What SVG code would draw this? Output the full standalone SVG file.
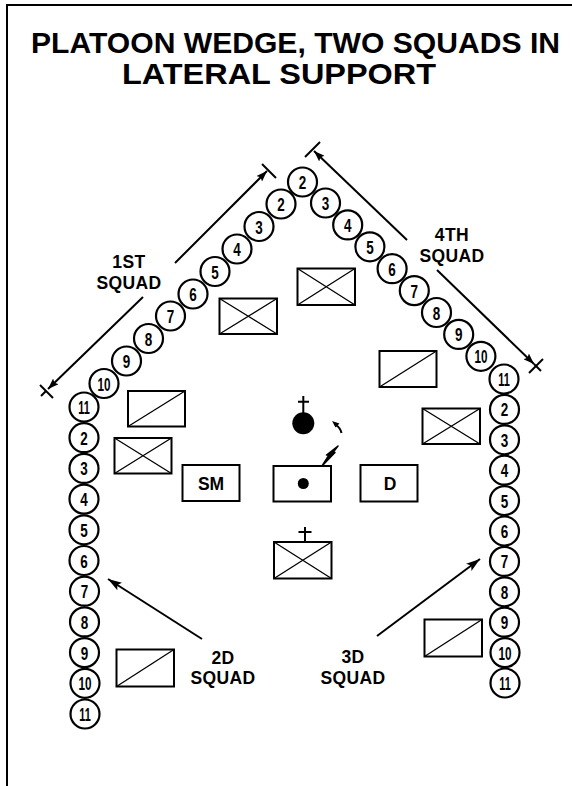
<svg xmlns="http://www.w3.org/2000/svg" width="572" height="786" viewBox="0 0 572 786">
<defs>
<style>
.bg{fill:#fff}
.frame{stroke:#000;stroke-width:2;fill:none}
.ttl{font-family:"Liberation Sans",Arial,sans-serif;font-weight:bold;font-size:30px;fill:#000}
.lbl{font-family:"Liberation Sans",Arial,sans-serif;font-weight:bold;font-size:17.5px;fill:#000;text-anchor:middle;letter-spacing:0.4px}
.c{fill:#fff;stroke:#000;stroke-width:2.2}
.n{font-family:"Liberation Sans",Arial,sans-serif;font-weight:bold;font-size:19px;fill:#000;text-anchor:middle}
.box{fill:#fff;stroke:#000;stroke-width:2}
.diag{stroke:#000;stroke-width:1.3;fill:none}
.ln{stroke:#000;stroke-width:2;fill:none}
.bt{font-family:"Liberation Sans",Arial,sans-serif;font-weight:bold;font-size:17.5px;fill:#000;text-anchor:middle}
</style>
<marker id="ah" viewBox="0 0 11 8" refX="11" refY="4" markerWidth="11" markerHeight="8" markerUnits="userSpaceOnUse" orient="auto">
<path d="M0,0 L11,4 L0,8 L2,4 z" fill="#000"/>
</marker>
<marker id="ah2" viewBox="0 0 14 9" refX="14" refY="4.5" markerWidth="14" markerHeight="9" markerUnits="userSpaceOnUse" orient="auto">
<path d="M0,0 L14,4.5 L0,9 L3,4.5 z" fill="#000"/>
</marker>
</defs>
<rect class="bg" x="0" y="0" width="572" height="786"/>
<path class="frame" d="M7,786 L7,5 L572,5"/>
<g id="title">
<text class="ttl" x="31" y="53" textLength="529" lengthAdjust="spacingAndGlyphs">PLATOON WEDGE, TWO SQUADS IN</text>
<text class="ttl" x="122" y="84" textLength="314" lengthAdjust="spacingAndGlyphs">LATERAL SUPPORT</text>
</g>
<g id="connectors">
<line class="ln" x1="175" y1="263" x2="267" y2="171" marker-end="url(#ah)"/>
<line class="ln" x1="143" y1="297" x2="48" y2="389" marker-end="url(#ah)"/>
<line class="ln" x1="46" y1="391" x2="41" y2="396"/>
<line class="ln" x1="262" y1="164" x2="276" y2="178"/>
<line class="ln" x1="40" y1="385" x2="53" y2="398"/>
<line class="ln" x1="407" y1="240" x2="314" y2="151" marker-end="url(#ah)"/>
<line class="ln" x1="437" y1="270" x2="534" y2="364" marker-end="url(#ah)"/>
<line class="ln" x1="534" y1="364" x2="541" y2="371"/>
<line class="ln" x1="305" y1="157" x2="320" y2="142"/>
<line class="ln" x1="529" y1="373" x2="543" y2="359"/>
<line class="ln" x1="202" y1="639" x2="108" y2="579" marker-end="url(#ah2)"/>
<line class="ln" x1="377" y1="636" x2="480" y2="559" marker-end="url(#ah2)"/>
</g>
<g id="labels">
<text class="lbl" x="129" y="268">1ST</text>
<text class="lbl" x="129" y="289">SQUAD</text>
<text class="lbl" x="452" y="241">4TH</text>
<text class="lbl" x="452" y="262">SQUAD</text>
<text class="lbl" x="223" y="664">2D</text>
<text class="lbl" x="223" y="684">SQUAD</text>
<text class="lbl" x="353" y="663">3D</text>
<text class="lbl" x="353" y="684">SQUAD</text>
</g>
<g id="apex"><circle class="c" cx="302.5" cy="182" r="14.5"/><text class="n" x="302.5" y="189" textLength="7.5" lengthAdjust="spacingAndGlyphs">2</text></g>
<g id="sq1">
<g id="s1-2"><circle class="c" cx="281" cy="204" r="14.5"/><text class="n" x="281" y="211" textLength="7.5" lengthAdjust="spacingAndGlyphs">2</text></g>
<g id="s1-3"><circle class="c" cx="259" cy="226.5" r="14.5"/><text class="n" x="259" y="233.5" textLength="7.5" lengthAdjust="spacingAndGlyphs">3</text></g>
<g id="s1-4"><circle class="c" cx="237" cy="249" r="14.5"/><text class="n" x="237" y="256" textLength="7.5" lengthAdjust="spacingAndGlyphs">4</text></g>
<g id="s1-5"><circle class="c" cx="215" cy="271.5" r="14.5"/><text class="n" x="215" y="278.5" textLength="7.5" lengthAdjust="spacingAndGlyphs">5</text></g>
<g id="s1-6"><circle class="c" cx="193" cy="294" r="14.5"/><text class="n" x="193" y="301" textLength="7.5" lengthAdjust="spacingAndGlyphs">6</text></g>
<g id="s1-7"><circle class="c" cx="170.5" cy="316" r="14.5"/><text class="n" x="170.5" y="323" textLength="7.5" lengthAdjust="spacingAndGlyphs">7</text></g>
<g id="s1-8"><circle class="c" cx="148.5" cy="338.5" r="14.5"/><text class="n" x="148.5" y="345.5" textLength="7.5" lengthAdjust="spacingAndGlyphs">8</text></g>
<g id="s1-9"><circle class="c" cx="126.5" cy="361" r="14.5"/><text class="n" x="126.5" y="368" textLength="7.5" lengthAdjust="spacingAndGlyphs">9</text></g>
<g id="s1-10"><circle class="c" cx="104" cy="383.5" r="14.5"/><text class="n" x="104" y="390.5" textLength="13" lengthAdjust="spacingAndGlyphs">10</text></g>
<g id="s1-11"><circle class="c" cx="84" cy="407" r="14.5"/><text class="n" x="84" y="414" textLength="11.5" lengthAdjust="spacingAndGlyphs">11</text></g>
</g>
<g id="sq2">
<g id="s2-2"><circle class="c" cx="84" cy="437.7" r="14.5"/><text class="n" x="84" y="444.7" textLength="7.5" lengthAdjust="spacingAndGlyphs">2</text></g>
<g id="s2-3"><circle class="c" cx="84" cy="468.4" r="14.5"/><text class="n" x="84" y="475.4" textLength="7.5" lengthAdjust="spacingAndGlyphs">3</text></g>
<g id="s2-4"><circle class="c" cx="84" cy="499.1" r="14.5"/><text class="n" x="84" y="506.1" textLength="7.5" lengthAdjust="spacingAndGlyphs">4</text></g>
<g id="s2-5"><circle class="c" cx="84" cy="529.8" r="14.5"/><text class="n" x="84" y="536.8" textLength="7.5" lengthAdjust="spacingAndGlyphs">5</text></g>
<g id="s2-6"><circle class="c" cx="84" cy="560.5" r="14.5"/><text class="n" x="84" y="567.5" textLength="7.5" lengthAdjust="spacingAndGlyphs">6</text></g>
<g id="s2-7"><circle class="c" cx="84.5" cy="591.2" r="14.5"/><text class="n" x="84.5" y="598.2" textLength="7.5" lengthAdjust="spacingAndGlyphs">7</text></g>
<g id="s2-8"><circle class="c" cx="84.5" cy="621.9" r="14.5"/><text class="n" x="84.5" y="628.9" textLength="7.5" lengthAdjust="spacingAndGlyphs">8</text></g>
<g id="s2-9"><circle class="c" cx="84.5" cy="652.6" r="14.5"/><text class="n" x="84.5" y="659.6" textLength="7.5" lengthAdjust="spacingAndGlyphs">9</text></g>
<g id="s2-10"><circle class="c" cx="85" cy="683.3" r="14.5"/><text class="n" x="85" y="690.3" textLength="13" lengthAdjust="spacingAndGlyphs">10</text></g>
<g id="s2-11"><circle class="c" cx="85" cy="714" r="14.5"/><text class="n" x="85" y="721" textLength="11.5" lengthAdjust="spacingAndGlyphs">11</text></g>
</g>
<g id="sq4">
<g id="s4-3"><circle class="c" cx="325.5" cy="203" r="14.5"/><text class="n" x="325.5" y="210" textLength="7.5" lengthAdjust="spacingAndGlyphs">3</text></g>
<g id="s4-4"><circle class="c" cx="347.7" cy="224.9" r="14.5"/><text class="n" x="347.7" y="231.9" textLength="7.5" lengthAdjust="spacingAndGlyphs">4</text></g>
<g id="s4-5"><circle class="c" cx="369.9" cy="246.8" r="14.5"/><text class="n" x="369.9" y="253.8" textLength="7.5" lengthAdjust="spacingAndGlyphs">5</text></g>
<g id="s4-6"><circle class="c" cx="392.1" cy="268.7" r="14.5"/><text class="n" x="392.1" y="275.7" textLength="7.5" lengthAdjust="spacingAndGlyphs">6</text></g>
<g id="s4-7"><circle class="c" cx="414.3" cy="290.6" r="14.5"/><text class="n" x="414.3" y="297.6" textLength="7.5" lengthAdjust="spacingAndGlyphs">7</text></g>
<g id="s4-8"><circle class="c" cx="436.5" cy="312.5" r="14.5"/><text class="n" x="436.5" y="319.5" textLength="7.5" lengthAdjust="spacingAndGlyphs">8</text></g>
<g id="s4-9"><circle class="c" cx="458.7" cy="334.4" r="14.5"/><text class="n" x="458.7" y="341.4" textLength="7.5" lengthAdjust="spacingAndGlyphs">9</text></g>
<g id="s4-10"><circle class="c" cx="480.9" cy="356.3" r="14.5"/><text class="n" x="480.9" y="363.3" textLength="13" lengthAdjust="spacingAndGlyphs">10</text></g>
<g id="s4-11"><circle class="c" cx="504" cy="379" r="14.5"/><text class="n" x="504" y="386" textLength="11.5" lengthAdjust="spacingAndGlyphs">11</text></g>
</g>
<g id="sq3">
<g id="s3-2"><circle class="c" cx="504.5" cy="409.4" r="14.5"/><text class="n" x="504.5" y="416.4" textLength="7.5" lengthAdjust="spacingAndGlyphs">2</text></g>
<g id="s3-3"><circle class="c" cx="504.5" cy="439.8" r="14.5"/><text class="n" x="504.5" y="446.8" textLength="7.5" lengthAdjust="spacingAndGlyphs">3</text></g>
<g id="s3-4"><circle class="c" cx="504.5" cy="470.2" r="14.5"/><text class="n" x="504.5" y="477.2" textLength="7.5" lengthAdjust="spacingAndGlyphs">4</text></g>
<g id="s3-5"><circle class="c" cx="504.5" cy="500.6" r="14.5"/><text class="n" x="504.5" y="507.6" textLength="7.5" lengthAdjust="spacingAndGlyphs">5</text></g>
<g id="s3-6"><circle class="c" cx="504.5" cy="531" r="14.5"/><text class="n" x="504.5" y="538" textLength="7.5" lengthAdjust="spacingAndGlyphs">6</text></g>
<g id="s3-7"><circle class="c" cx="504.5" cy="561.4" r="14.5"/><text class="n" x="504.5" y="568.4" textLength="7.5" lengthAdjust="spacingAndGlyphs">7</text></g>
<g id="s3-8"><circle class="c" cx="504.5" cy="591.8" r="14.5"/><text class="n" x="504.5" y="598.8" textLength="7.5" lengthAdjust="spacingAndGlyphs">8</text></g>
<g id="s3-9"><circle class="c" cx="504.5" cy="622.2" r="14.5"/><text class="n" x="504.5" y="629.2" textLength="7.5" lengthAdjust="spacingAndGlyphs">9</text></g>
<g id="s3-10"><circle class="c" cx="505" cy="652.6" r="14.5"/><text class="n" x="505" y="659.6" textLength="13" lengthAdjust="spacingAndGlyphs">10</text></g>
<g id="s3-11"><circle class="c" cx="505" cy="683" r="14.5"/><text class="n" x="505" y="690" textLength="11.5" lengthAdjust="spacingAndGlyphs">11</text></g>
</g>
<g id="v1"><rect class="box" x="297.5" y="268.5" width="57.5" height="36.5"/><path class="diag" d="M297.5,268.5 L355,305 M297.5,305 L355,268.5"/></g>
<g id="v2"><rect class="box" x="219.5" y="298.5" width="57.5" height="35.5"/><path class="diag" d="M219.5,298.5 L277,334 M219.5,334 L277,298.5"/></g>
<g id="v3"><rect class="box" x="379.5" y="351" width="57" height="36"/><path class="diag" d="M379.5,387 L436.5,351"/></g>
<g id="v4"><rect class="box" x="128" y="391" width="57" height="35.5"/><path class="diag" d="M128,426.5 L185,391"/></g>
<g id="v5"><rect class="box" x="114.5" y="438" width="57" height="35.5"/><path class="diag" d="M114.5,438 L171.5,473.5 M114.5,473.5 L171.5,438"/></g>
<g id="v6"><rect class="box" x="422.5" y="408.5" width="57.5" height="35.5"/><path class="diag" d="M422.5,408.5 L480,444 M422.5,444 L480,408.5"/></g>
<g id="sm"><rect class="box" x="182.5" y="465" width="57" height="36"/><text class="bt" x="211" y="489.5">SM</text></g>
<g id="cp"><rect class="box" x="273.5" y="466" width="57.5" height="35.5"/><circle cx="303.3" cy="483.5" r="5.5" fill="#000"/></g>
<g id="d"><rect class="box" x="360.5" y="465" width="57" height="36.5"/><text class="bt" x="390" y="489.5">D</text></g>
<g id="med"><rect class="box" x="274" y="542" width="57.5" height="36.5"/><path class="diag" d="M274,542 L331.5,578.5 M274,578.5 L331.5,542"/><path class="ln" d="M305,527 L305,542 M298.5,532 L311.5,532"/></g>
<g id="v7"><rect class="box" x="116.5" y="649.5" width="57.5" height="37"/><path class="diag" d="M116.5,686.5 L174,649.5"/></g>
<g id="v8"><rect class="box" x="424.5" y="619.5" width="57.5" height="37"/><path class="diag" d="M424.5,656.5 L482,619.5"/></g>
<g id="pl"><circle cx="303.3" cy="423.3" r="11" fill="#000"/><path class="ln" d="M303.3,396 L303.3,413 M298,401.7 L309,401.7"/></g>
<g id="psg"><polygon points="332,421 339.5,423.5 335.5,427.5" fill="#000"/><path class="ln" d="M336,425 Q340.5,428 341.5,433"/></g>
<g id="radio"><path d="M322,466 L329,455 L326.5,455 L338,446 L333,452.5 L335,452.5 Z" fill="#000" stroke="#000" stroke-width="1.5" stroke-linejoin="round"/></g>
</svg>
